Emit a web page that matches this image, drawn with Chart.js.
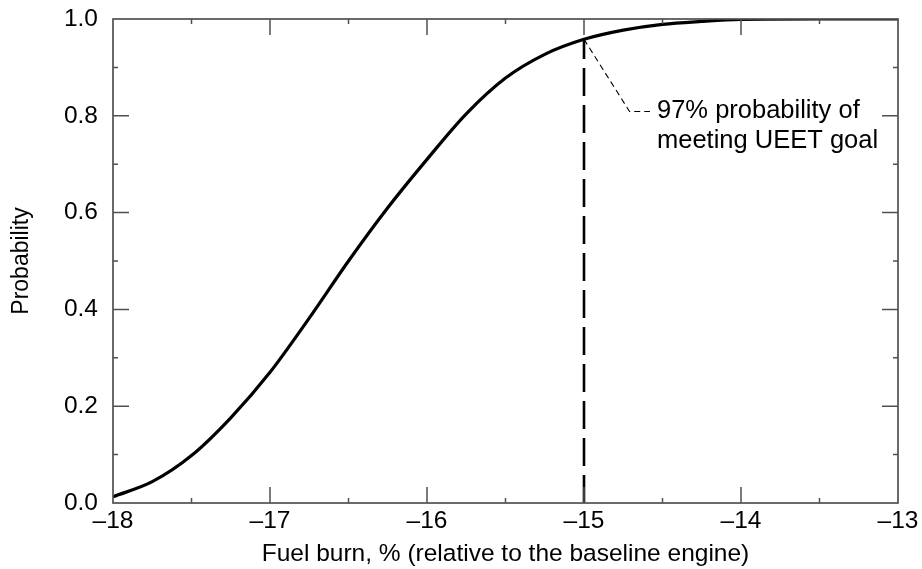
<!DOCTYPE html>
<html>
<head>
<meta charset="utf-8">
<script src="https://cdn.jsdelivr.net/npm/chart.js@4"></script>
<style>
  html, body { margin: 0; padding: 0; background: #fff; }
  canvas { display: block; }
</style>
</head>
<body>
<canvas id="c" width="922" height="569" style="width:922px;height:569px"></canvas>
<script>
// ---- data ----
const fuelBurn = [-18, -17.75, -17.5, -17.25, -17, -16.75, -16.5, -16.25, -16, -15.75, -15.5, -15.25, -15, -14.75, -14.5, -14.25, -14, -13.5, -13];
const probability = [0.013, 0.044, 0.098, 0.176, 0.27, 0.382, 0.50, 0.61, 0.71, 0.804, 0.878, 0.927, 0.958, 0.977, 0.989, 0.995, 0.999, 1.0, 1.0];
const goalX = [-15, -15];
const goalY = [0, 0.958];
const leaderX = [-15, -14.71, -14.58];
const leaderY = [0.958, 0.809, 0.809];
const annotationLines = ["97% probability of", "meeting UEET goal"];
const annotationAnchor = [-14.535, 0.809];
const xTicks = [-18, -17, -16, -15, -14, -13];
const yTicks = [0, 0.2, 0.4, 0.6, 0.8, 1.0];
const xTitle = "Fuel burn, % (relative to the baseline engine)";
const yTitle = "Probability";

const FONT = "'Liberation Sans', Arial, Helvetica, sans-serif";

const pts = (xs, ys) => xs.map((x, i) => ({ x: x, y: ys[i] }));

const framePlugin = {
  id: 'frame',
  afterDraw(chart) {
    const ctx = chart.ctx;
    const a = chart.chartArea;
    const xs = chart.scales.x, ys = chart.scales.y;
    ctx.save();
    ctx.strokeStyle = '#505050';
    ctx.lineWidth = 1.7;
    ctx.strokeRect(a.left, a.top, a.right - a.left, a.bottom - a.top);
    const major = 16, minor = 5;
    ctx.lineWidth = 1.5;
    ctx.beginPath();
    for (let i = 0; i < xTicks.length; i++) {
      const v = xTicks[i];
      const px = xs.getPixelForValue(v);
      if (i > 0 && i < xTicks.length - 1) {
        ctx.moveTo(px, a.bottom); ctx.lineTo(px, a.bottom - major);
        ctx.moveTo(px, a.top); ctx.lineTo(px, a.top + major);
      }
      if (i < xTicks.length - 1) {
        const pm = xs.getPixelForValue(v + 0.5);
        ctx.moveTo(pm, a.bottom); ctx.lineTo(pm, a.bottom - minor);
        ctx.moveTo(pm, a.top); ctx.lineTo(pm, a.top + minor);
      }
    }
    for (let i = 0; i < yTicks.length; i++) {
      const v = yTicks[i];
      const py = ys.getPixelForValue(v);
      if (i > 0 && i < yTicks.length - 1) {
        ctx.moveTo(a.left, py); ctx.lineTo(a.left + major, py);
        ctx.moveTo(a.right, py); ctx.lineTo(a.right - major, py);
      }
      if (i < yTicks.length - 1) {
        const pm = ys.getPixelForValue(v + 0.1);
        ctx.moveTo(a.left, pm); ctx.lineTo(a.left + minor, pm);
        ctx.moveTo(a.right, pm); ctx.lineTo(a.right - minor, pm);
      }
    }
    ctx.stroke();
    ctx.fillStyle = '#000';
    ctx.font = '25.5px ' + FONT;
    ctx.textAlign = 'left';
    ctx.textBaseline = 'middle';
    const tx = xs.getPixelForValue(annotationAnchor[0]);
    const ty = ys.getPixelForValue(annotationAnchor[1]);
    annotationLines.forEach((t, i) => ctx.fillText(t, tx, ty + i * 30));
    ctx.restore();
  }
};

new Chart(document.getElementById('c'), {
  type: 'line',
  data: {
    datasets: [
      {
        data: pts(fuelBurn, probability),
        borderColor: '#000', borderWidth: 3.2,
        pointRadius: 0, fill: false,
        cubicInterpolationMode: 'monotone'
      },
      {
        data: pts(goalX, goalY),
        borderColor: '#000', borderWidth: 2.6,
        borderDash: [28, 9], pointRadius: 0, fill: false, tension: 0
      },
      {
        data: pts(leaderX, leaderY),
        borderColor: '#000', borderWidth: 1.1,
        borderDash: [6, 4], pointRadius: 0, fill: false, tension: 0
      }
    ]
  },
  options: {
    responsive: false,
    animation: false,
    layout: { padding: { top: 19, right: 24, left: 0, bottom: 0 } },
    plugins: { legend: { display: false }, tooltip: { enabled: false } },
    scales: {
      x: {
        type: 'linear', min: -18, max: -13,
        grid: { display: false, drawTicks: false },
        border: { display: false },
        ticks: {
          stepSize: 1, autoSkip: false, maxRotation: 0, padding: 4,
          color: '#000', font: { family: FONT, size: 24.5 },
          callback: v => (v < 0 ? '\u2013' : '') + Math.abs(v)
        },
        title: {
          display: true, text: xTitle, color: '#000',
          font: { family: FONT, size: 24.5 }, padding: { top: 0, bottom: 0 }
        },
        afterFit: s => { s.height = 66; s.paddingLeft = 0; s.paddingRight = 0; }
      },
      y: {
        type: 'linear', min: 0, max: 1,
        grid: { display: false, drawTicks: false },
        border: { display: false },
        ticks: {
          stepSize: 0.2, padding: 15,
          color: '#000', font: { family: FONT, size: 24.5 },
          callback: v => v.toFixed(1)
        },
        title: {
          display: true, text: yTitle, color: '#000',
          font: { family: FONT, size: 23 }, padding: { top: 8, bottom: 0 }
        },
        afterFit: s => { s.width = 113; s.paddingTop = 0; s.paddingBottom = 0; }
      }
    }
  },
  plugins: [framePlugin]
});
</script>
</body>
</html>
